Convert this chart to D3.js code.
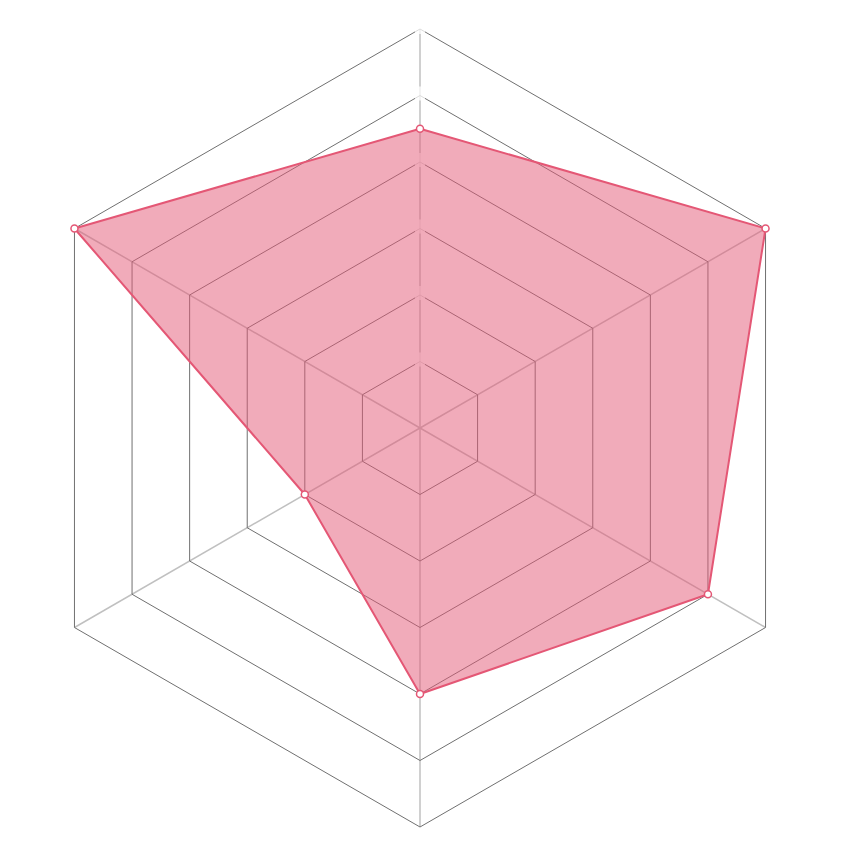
<!DOCTYPE html>
<meta charset="utf-8">
<style>
    body { margin: 0; background: #fff; }
    .grid path { fill: none; stroke: #707070; stroke-width: 1; }
    .spokes line { stroke: #c0c0c0; stroke-width: 1.5; }
</style>
<svg width="860" height="860"></svg>
<script src="https://cdn.jsdelivr.net/npm/d3@7"></script>
<script>

    // data: six axes, clockwise from the top
    var axes = ["A", "B", "C", "D", "E", "F"];
    var values = [4.5, 6, 5, 4, 2, 6];
    var levels = [1, 2, 3, 4, 5, 6];
    var maxValue = 6;

    var svg = d3.select("svg"),
        cx = 420,
        cy = 428,
        radius = 399;

    var r = d3.scaleLinear().domain([0, maxValue]).range([0, radius]);
    var angle = function(i) { return i * 2 * Math.PI / axes.length; };

    function point(i, v) {
        return [cx + r(v) * Math.sin(angle(i)), cy - r(v) * Math.cos(angle(i))];
    }

    var line = d3.line();

    // spokes
    svg.append("g").attr("class", "spokes")
        .selectAll("line").data(axes).enter().append("line")
        .attr("x1", cx).attr("y1", cy)
        .attr("x2", function(d, i) { return point(i, maxValue)[0]; })
        .attr("y2", function(d, i) { return point(i, maxValue)[1]; });

    // hexagon rings
    svg.append("g").attr("class", "grid")
        .selectAll("path").data(levels).enter().append("path")
        .attr("d", function(l) {
            return line(axes.map(function(a, i) { return point(i, l); })) + "Z";
        });

    // empty tick backdrops on the top axis
    svg.append("g").selectAll("rect").data(levels).enter().append("rect")
        .attr("x", cx - 5)
        .attr("y", function(l) { return point(0, l)[1] - 9; })
        .attr("width", 10)
        .attr("height", 14)
        .attr("fill", "rgba(255,255,255,0.75)");

    // data area
    var pts = values.map(function(v, i) { return point(i, v); });

    svg.append("path")
        .attr("d", line(pts) + "Z")
        .attr("fill", "rgba(228,87,117,0.5)")
        .attr("stroke", "rgb(228,87,117)")
        .attr("stroke-width", 2)
        .attr("stroke-linejoin", "round");

    svg.append("g").selectAll("circle").data(pts).enter().append("circle")
        .attr("cx", function(d) { return d[0]; })
        .attr("cy", function(d) { return d[1]; })
        .attr("r", 3.5)
        .attr("fill", "#fff")
        .attr("stroke", "rgb(228,87,117)")
        .attr("stroke-width", 1.5);

</script>
